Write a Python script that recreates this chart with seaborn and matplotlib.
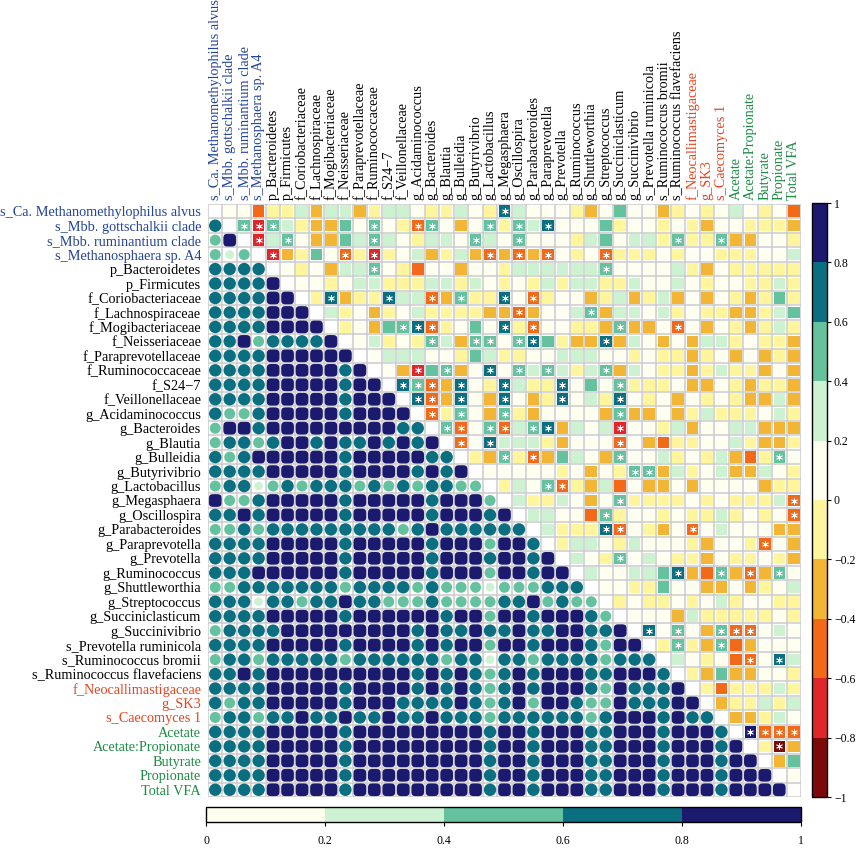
import numpy as np
import pandas as pd
import matplotlib as mpl
import matplotlib.pyplot as plt
from matplotlib.colors import ListedColormap, BoundaryNorm
from matplotlib.path import Path
import seaborn as sns

# Visual style
sns.set_theme(style="white")
plt.rcParams['font.family'] = ['Liberation Serif', 'DejaVu Serif']

# ------------------------------
# Data
# ------------------------------

labels = [
    's_Ca. Methanomethylophilus alvus', 's_Mbb. gottschalkii clade', 's_Mbb. ruminantium clade',
    's_Methanosphaera sp. A4', 'p_Bacteroidetes', 'p_Firmicutes', 'f_Coriobacteriaceae',
    'f_Lachnospiraceae', 'f_Mogibacteriaceae', 'f_Neisseriaceae', 'f_Paraprevotellaceae',
    'f_Ruminococcaceae', 'f_S24\u22127', 'f_Veillonellaceae', 'g_Acidaminococcus', 'g_Bacteroides',
    'g_Blautia', 'g_Bulleidia', 'g_Butyrivibrio', 'g_Lactobacillus', 'g_Megasphaera',
    'g_Oscillospira', 'g_Parabacteroides', 'g_Paraprevotella', 'g_Prevotella', 'g_Ruminococcus',
    'g_Shuttleworthia', 'g_Streptococcus', 'g_Succiniclasticum', 'g_Succinivibrio',
    's_Prevotella ruminicola', 's_Ruminococcus bromii', 's_Ruminococcus flavefaciens',
    'f_Neocallimastigaceae', 'g_SK3', 's_Caecomyces 1',
    'Acetate', 'Acetate:Propionate', 'Butyrate', 'Propionate', 'Total VFA',
]
group_sizes = [4, 29, 3, 5]
group_colors = ['#24449a', 'black', '#e8441f', '#1d8c44']

# correlation class of each cell (upper triangle)
# D<-0.8 X<-0.6 R<-0.4 O<-0.2 Y<0 W<0.2 L<0.4 G<0.6 T<0.8 N<=1
corr_value = {'D': -0.9, 'X': -0.7, 'R': -0.5, 'O': -0.3, 'Y': -0.1,
              'W': 0.1, 'L': 0.3, 'G': 0.5, 'T': 0.7, 'N': 0.9}

# row i holds columns i+1 .. 40
upper_rows = [
    "WWRYYLOLLOYL L WYYLWYTLWWWYO WGWWOYWYWLWYWR",
    "GXGLYOOGWGW Y RGWOWGYGLTWWW GYWWYWYOWWYYYO",
    "XLGWOOGLGL W YLLWGLWGWWWYL GWLLYGYYGOOWWY",
    "XOYGWRYXY W LOYLORORORWYW RYYYWYWWYYYWWL",
    "WYWOLLGW Y RWWOWWYLLLLLL GWWWWLYOWYYYYY",
    "WWYWLLY Y YLLYLWYWYLYLL YYLWWLWYWWYYLY",
    "YTOYYT L LROGYYTWRYWWO YLOYLOWOWYOYGY",
    "LYWOY W LYYYYOOROWWLG OLLWLYWYYOOYLG",
    "YWOG G TRYWGWTYRWWYY OGOOWRWOWYOYLY",
    "WLY W YGLOGGWGTGYOO TOLWOWOLLYWYYO",
    "WL L LWWYGLYYWWLLL WWYWYYOYWOWOYO",
    "W O XGGOWTWGLGLYL GOLWYYOYLYYOWO",
    "T GROTWYTLYYTWG WGYYYWOOWYOYYO",
    "TROTWOTWOYTWL YTWYWOWYWYOOLO",
    "RYGWOGYOWWWW OGOOWOYLYYYWLY",
    "GRWGRLGTOLW LXWWYLOWWLLOOO",
    "RWTLLLYOWW WRWORYYWWLYOOY",
    "YOGYROGLW OGWWLYWYLORYGW",
    "WWWWWYWO WYGGOLYWLOOLWY",
    "YLWGRYO LRWOOWOWWWWOYY",
    "LYYLWO WGYYYYWYWYYYLR",
    "LLWWR GYWWYWYYLYWYWR",
    "LYYY TRWYOWRWLWWWOO",
    "YLL WYLWWWYOWWYRWO",
    "LW YGWLWYYOWYYWYO",
    "L WWLLGTORGOROGW",
    "WWYYGWWOOWOYWL",
    "YWYYWYWLYWWYY",
    "WWWOLYYYYYWY",
    "TWGWOGRRWLW",
    "YGYOGROWWW",
    "LWYWRRWTL",
    "YOGOOWWY",
    "YRYYYLY",
    "OYYLYL",
    "OOYLW",
    "NRRR",
    "YDO",
    "OG",
    "W",
    "",
]

# significant correlations (row, column)
sig_cells = [
    (0, 20),
    (1, 2), (1, 3), (1, 4), (1, 11), (1, 14), (1, 15), (1, 19), (1, 21), (1, 23),
    (2, 3), (2, 5), (2, 11), (2, 18), (2, 21), (2, 32), (2, 35),
    (3, 4), (3, 9), (3, 11), (3, 19), (3, 21), (3, 23), (3, 27),
    (4, 11), (4, 27),
    (6, 8), (6, 12), (6, 15), (6, 17), (6, 20), (6, 22),
    (7, 21), (7, 26),
    (8, 13), (8, 14), (8, 15), (8, 20), (8, 22), (8, 28), (8, 32),
    (9, 15), (9, 18), (9, 19), (9, 21), (9, 22), (9, 27),
    (11, 14), (11, 16), (11, 19), (11, 21), (11, 23), (11, 27),
    (12, 13), (12, 14), (12, 15), (12, 17), (12, 20), (12, 24), (12, 28),
    (13, 14), (13, 15), (13, 17), (13, 20), (13, 24), (13, 28),
    (14, 15), (14, 17), (14, 20), (14, 28),
    (15, 16), (15, 17), (15, 19), (15, 20), (15, 22), (15, 23), (15, 28),
    (16, 17), (16, 19), (16, 28),
    (17, 20), (17, 22), (17, 28), (17, 39),
    (18, 29), (18, 30),
    (19, 23), (19, 24),
    (20, 28), (20, 40),
    (21, 27), (21, 40),
    (22, 27), (22, 28), (22, 33),
    (23, 38),
    (24, 28),
    (25, 32), (25, 35), (25, 37), (25, 39),
    (29, 30), (29, 32), (29, 35), (29, 36), (29, 37),
    (30, 32), (30, 35),
    (31, 37), (31, 39),
    (36, 37), (36, 38), (36, 39), (36, 40),
    (37, 39),
]

# lower triangle circles, class 0-0.2 W, 0.2-0.4 L, 0.4-0.6 G, 0.6-0.8 T, 0.8-1 N
low_value = {'W': 0.1, 'L': 0.3, 'G': 0.5, 'T': 0.7, 'N': 0.9}

# row i holds columns 0 .. i-1
lower_rows = [
    "",
    "T",
    "GN",
    "GLG",
    "TTTT",
    "TTTTN",
    "TTTTNN",
    "TTTTNNN",
    "TTTTNNNN",
    "TTNGTTTTN",
    "TTTTNNNNNN",
    "TTTTNNNNNTN",
    "TTTTNNNNNTNN",
    "TTTTNNNNNTNNN",
    "TGGTNNNNNTNNN N",
    "GNNTNNNNNNNNN TT",
    "GTTGTNNTNTTNT NTN",
    "TGTNNNNNNTNNN NNTT",
    "TTTTNNNNNTNNN NTNTN",
    "GTTLGTGTTTGTG TGTTGG",
    "NGGTNNNNNTNNN NNTNNNG",
    "TTNTNNNNNTNNN NNTNNNTN",
    "GGTGTTTTTTTTT GTNTTTTTT",
    "TTTTNNNNNTNNN NNTNNNGNNT",
    "TTTTNNNNNTNNN NNTNNNTNNTN",
    "TTTNNNNNNTNNN NNTNNNGNNTNN",
    "GGTTTTTTTGTTT TGTGGGLGGGTTT",
    "TTTLTTGTTNTTG GGTGGGGTTNGTGG",
    "TTTTNNNNNTNNN NNNTNNGNNTNNNT G",
    "GTTTTNNNNNNNN NTNTTNTTNTTNNT TN",
    "TTTTNNNNNTNNN NTNTNNGNNTNNNT GNN",
    "GTTGTTTTTGTTT TTTGTTLTTGTTTT GTTT",
    "TTNTNNNNNNNNN NTNTNTGTNTNNNT TNNNT",
    "TTTTNNNNNTNNN NTNTNTGTNTNNNT GNTTTN",
    "TGTTNNNNNTNNN TTTTNTGTNGNNTG GNTTTNN",
    "GTTGTTNTTNTTN TTNTTTGTTTTTTG TNNNTNTT",
    "TTTTNNNNNTNNN NNNNNNTNNTNNNT TNNNTNNNT",
    "TTTTNNNNNTNNN NNNNNNTNNTNNNT TNNNTNNNTN",
    "TTTTNNNNNTNNN NNNNNNTNNTNNNT TNNNTNNNTNN",
    "TTTTNNNNNTNNN NNNNNNTNNTNNNT TNNNTNNNTNNN",
    "TTTTNNNNNTNNN NNNNNNTNNTNNNT TNNNTNNNTNNNN",
]

corr_ticklabels = ['\u22121', '\u22120.8', '\u22120.6', '\u22120.4', '\u22120.2', '0',
                   '0.2', '0.4', '0.6', '0.8', '1']
low_ticklabels = ['0', '0.2', '0.4', '0.6', '0.8', '1']

# ------------------------------
# Tables
# ------------------------------

n = len(labels)
rows = []
for i, row in enumerate(upper_rows):
    for k, code in enumerate(row.replace(' ', '')):
        rows.append((i + 1 + k + 0.5, i + 0.5, corr_value[code]))
upper_df = pd.DataFrame(rows, columns=['x', 'y', 'r'])

rows = []
for i, row in enumerate(lower_rows):
    for j, code in enumerate(row.replace(' ', '')):
        rows.append((j + 0.5, i + 0.5, low_value[code]))
lower_df = pd.DataFrame(rows, columns=['x', 'y', 'v'])

sig_df = pd.DataFrame([(j + 0.5, i + 0.5) for i, j in sig_cells], columns=['x', 'y'])

# ------------------------------
# Colour scales
# ------------------------------

corr_colors = ['#7d0a0a', '#e0262b', '#f26a17', '#f2b634', '#fff59d',
               '#fffff0', '#cdf2d2', '#64c29f', '#0a6f80', '#1b1a6e']
corr_cmap = ListedColormap(corr_colors)
corr_norm = BoundaryNorm(np.linspace(-1, 1, 11), 10)

low_cmap = ListedColormap(corr_colors[5:])
low_norm = BoundaryNorm(np.linspace(0, 1, 6), 5)

# ------------------------------
# Figure
# ------------------------------

W, H = 856, 848


def px_box(x0, y0, x1, y1):
    return [x0 / W, 1 - y1 / H, (x1 - x0) / W, (y1 - y0) / H]


fig = plt.figure(figsize=(W / 100, H / 100), dpi=100)
ax = fig.add_axes(px_box(208, 204, 801, 797))

cell_pt = (593 / n) * 0.72

# grid of grey cell borders
ax.hlines(np.arange(n + 1), 0, n, color='#cbcbcb', lw=1.1, zorder=0.5)
ax.vlines(np.arange(n + 1), 0, n, color='#cbcbcb', lw=1.1, zorder=0.5)

# upper triangle: coloured squares
sns.scatterplot(data=upper_df, x='x', y='y', hue='r', palette=corr_cmap, hue_norm=corr_norm,
                marker='s', s=(0.8 * cell_pt) ** 2, linewidth=0, legend=False, ax=ax)

# lower triangle: circles sized by value
circle_sizes = {0.1: (0.45 * cell_pt) ** 2, 0.3: (0.6 * cell_pt) ** 2,
                0.5: (0.76 * cell_pt) ** 2, 0.7: (0.86 * cell_pt) ** 2}
small = lower_df[lower_df['v'] < 0.8]
sns.scatterplot(data=small, x='x', y='y', hue='v', palette=low_cmap, hue_norm=low_norm,
                size='v', sizes={k: circle_sizes[k] for k in sorted(small['v'].unique())},
                marker='o', linewidth=0, legend=False, ax=ax)

t = np.linspace(0, 2 * np.pi, 80)
rounded = Path(np.column_stack([np.sign(np.cos(t)) * np.abs(np.cos(t)) ** 0.5,
                                np.sign(np.sin(t)) * np.abs(np.sin(t)) ** 0.5]))
big = lower_df[lower_df['v'] >= 0.8]
sns.scatterplot(data=big, x='x', y='y', hue='v', palette=low_cmap, hue_norm=low_norm,
                marker=rounded, s=(0.88 * cell_pt) ** 2, linewidth=0, legend=False, ax=ax)

# significance asterisks
ax.scatter(sig_df['x'], sig_df['y'], marker=(6, 2, 0), s=(0.42 * cell_pt) ** 2,
           color='white', linewidths=0.6, zorder=3)

ax.set_xlim(0, n)
ax.set_ylim(n, 0)
ax.set_xlabel('')
ax.set_ylabel('')
for sp in ax.spines.values():
    sp.set_visible(False)

ax.xaxis.tick_top()
ax.set_xticks(np.arange(n) + 0.5)
ax.set_yticks(np.arange(n) + 0.5)
ax.set_xticklabels(labels, rotation=90, fontsize=10.3)
ax.set_yticklabels(labels, fontsize=10.3)
ax.tick_params(axis='x', length=0, pad=3)
ax.tick_params(axis='y', length=0, pad=5)

label_colors = [c for c, k in zip(group_colors, group_sizes) for _ in range(k)]
for lab, col in zip(ax.get_xticklabels(), label_colors):
    lab.set_color(col)
for lab, col in zip(ax.get_yticklabels(), label_colors):
    lab.set_color(col)

# colour bar for the correlations (right)
cax = fig.add_axes(px_box(812, 203, 827, 797))
sm = mpl.cm.ScalarMappable(norm=corr_norm, cmap=corr_cmap)
cb = fig.colorbar(sm, cax=cax, ticks=np.linspace(-1, 1, 11))
cb.ax.set_yticklabels(corr_ticklabels)
cb.outline.set_linewidth(1.0)
cb.outline.set_edgecolor('black')
cb.ax.tick_params(right=True, length=3, width=0.8, labelsize=8.5, pad=2, colors='black')

# colour bar for the lower triangle (bottom)
cax2 = fig.add_axes(px_box(206, 807, 801, 822))
sm2 = mpl.cm.ScalarMappable(norm=low_norm, cmap=low_cmap)
cb2 = fig.colorbar(sm2, cax=cax2, orientation='horizontal', ticks=np.linspace(0, 1, 6))
cb2.ax.set_xticklabels(low_ticklabels)
cb2.outline.set_linewidth(1.0)
cb2.outline.set_edgecolor('black')
cb2.ax.tick_params(bottom=True, length=3, width=0.8, labelsize=8.5, pad=6, colors='black')

fig.savefig('out.png', dpi=100)
